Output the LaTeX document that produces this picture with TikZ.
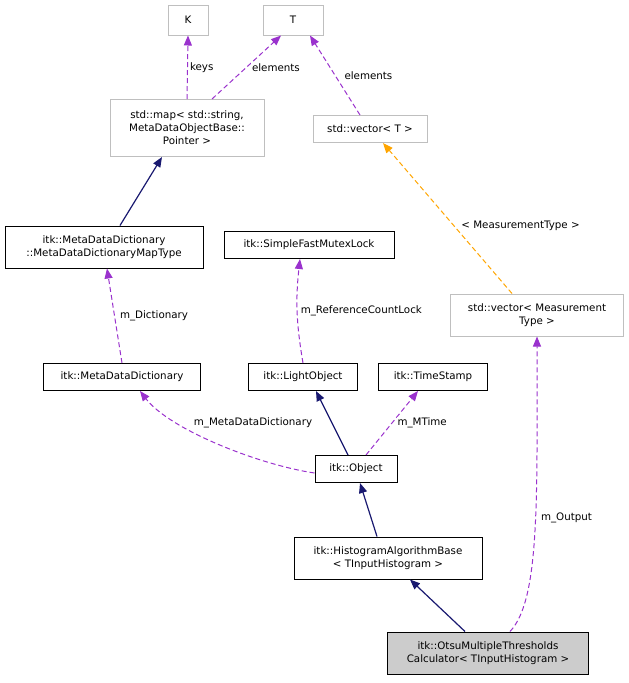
\documentclass[tikz,border=0pt]{standalone}
\usepackage{fontspec}
\setmainfont{DejaVu Sans}
\usetikzlibrary{arrows.meta,positioning}
\definecolor{edgepurple}{HTML}{9A32CD}
\definecolor{edgenavy}{HTML}{191970}
\definecolor{edgeorange}{HTML}{FFA500}
\definecolor{boxgray}{HTML}{BFBFBF}
\tikzset{
  cls/.style={draw=black, fill=white, line width=1pt, inner sep=2pt, align=center, font=\fontsize{10.3}{13}\selectfont},
  ext/.style={cls, draw=boxgray},
  sel/.style={cls, fill=boxgray!80},
  member/.style={edgepurple, line width=1pt, dash pattern=on 5pt off 3pt, -{Triangle[length=10pt,width=8pt]}},
  inherit/.style={edgenavy, line width=1.2pt, -{Triangle[length=10pt,width=8pt]}},
  templ/.style={edgeorange, line width=1pt, dash pattern=on 5pt off 3pt, -{Triangle[length=10pt,width=8pt]}},
  lbl/.style={text=black, font=\fontsize{10.3}{13}\selectfont, fill=white, inner sep=1pt}
}
\begin{document}
\begin{tikzpicture}[x=1pt,y=-1pt]
\useasboundingbox (0,0) rectangle (629,683);
% template arguments
\node[ext, minimum width=40, minimum height=30] (K) at (188,20) {K};
\node[ext, minimum width=60, minimum height=30] (T) at (293,20) {T};
\node[ext, minimum width=154, minimum height=57] (map) at (187,128) {std::map< std::string,\\MetaDataObjectBase::\\Pointer >};
\node[ext, minimum width=114, minimum height=27] (vecT) at (370,129) {std::vector< T >};
\node[cls, minimum width=198, minimum height=42] (maptype) at (104,247) {itk::MetaDataDictionary\\::MetaDataDictionaryMapType};
\node[cls, minimum width=170, minimum height=27] (mutex) at (309,245) {itk::SimpleFastMutexLock};
\node[ext, minimum width=173, minimum height=42] (vecMT) at (537,315) {std::vector< Measurement\\Type >};
\node[cls, minimum width=157, minimum height=27] (dict) at (122,377) {itk::MetaDataDictionary};
\node[cls, minimum width=109, minimum height=27] (light) at (303,377) {itk::LightObject};
\node[cls, minimum width=109, minimum height=27] (stamp) at (433,377) {itk::TimeStamp};
\node[cls, minimum width=82, minimum height=27] (object) at (356,469) {itk::Object};
\node[cls, minimum width=188, minimum height=42] (histbase) at (388,558) {itk::HistogramAlgorithmBase\\< TInputHistogram >};
\node[sel, minimum width=201, minimum height=42] (otsu) at (488,653) {itk::OtsuMultipleThresholds\\Calculator< TInputHistogram >};
% members
\draw[member] (map.north) -- node[lbl, right=1pt] {keys} (K.south);
\draw[member] ([xshift=25]map.north) -- node[lbl, right=4pt] {elements} ([xshift=-12]T.south);
\draw[member] ([xshift=-10]vecT.north) -- node[lbl, right=8pt] {elements} ([xshift=17]T.south);
\draw[inherit] ([xshift=16]maptype.north) -- ([xshift=-25]map.south);
\draw[member] (dict.north) -- node[lbl, right=4pt] {m\_Dictionary} ([xshift=3]maptype.south);
\draw[member] (light.north) to[bend left=8] node[lbl, right=2pt] {m\_ReferenceCountLock} ([xshift=-9]mutex.south);
\draw[templ] ([xshift=-25]vecMT.north) -- node[lbl, pos=0.45, right=6pt] {< MeasurementType >} ([xshift=13]vecT.south);
\draw[member] ([yshift=-4]object.west) .. controls (260,465) and (170,430) .. ([xshift=18]dict.south);
\node[lbl] (mddlbl) at (253,423) {m\_MetaDataDictionary};
\draw[inherit] ([xshift=-8]object.north) -- ([xshift=13]light.south);
\draw[member] ([xshift=10]object.north) -- node[lbl, right=4pt] {m\_MTime} ([xshift=-15]stamp.south);
\draw[inherit] ([xshift=-11]histbase.north) -- ([xshift=4]object.south);
\draw[inherit] ([xshift=-23]otsu.north) -- ([xshift=22]histbase.south);
\draw[member] ([xshift=22]otsu.north) .. controls (540,600) and (537,500) .. node[lbl, pos=0.55, right=4pt] {m\_Output} (vecMT.south);
\end{tikzpicture}
\end{document}
